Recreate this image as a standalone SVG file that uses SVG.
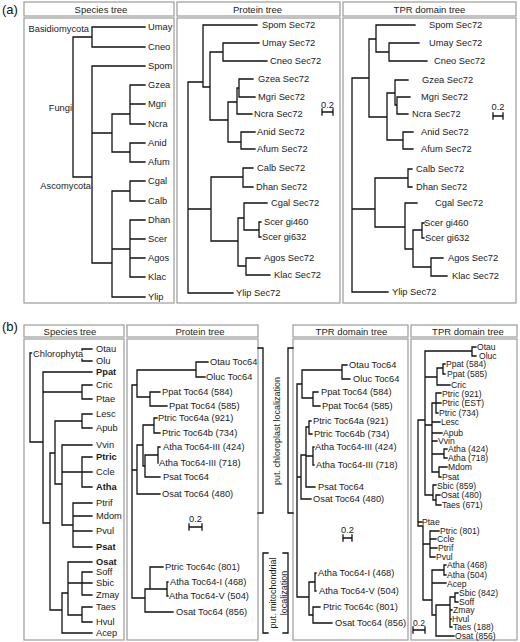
<svg xmlns="http://www.w3.org/2000/svg" width="520" height="642" viewBox="0 0 520 642">
<style>
.t{font-family:"Liberation Sans",Arial,sans-serif;font-size:9.3px;fill:#1a1a1a}
.s{font-size:8.6px}
.b{font-weight:bold}
.h{font-family:"Liberation Sans",Arial,sans-serif;font-size:9.5px;fill:#222;text-anchor:middle}
.pl{font-family:"Liberation Sans",Arial,sans-serif;font-size:13px;fill:#111}
.box{fill:#fff;stroke:#a3a3a3;stroke-width:1.3}
.e{fill:none;stroke:#111;stroke-width:1.3;stroke-linecap:square}
.halo{stroke:#fff;stroke-width:3;paint-order:stroke}
.vt{font-family:"Liberation Sans",Arial,sans-serif;font-size:9px;fill:#1a1a1a;text-anchor:middle}
</style>
<rect width="520" height="642" fill="#fff"/>
<g id="panels">
<text class="pl" x="2" y="14">(a)</text>
<rect class="box" x="24" y="2" width="150" height="14"/><text class="h" x="101" y="12.5">Species tree</text>
<rect class="box" x="177" y="2" width="163" height="14"/><text class="h" x="257.5" y="12.5">Protein tree</text>
<rect class="box" x="343" y="2" width="173" height="14"/><text class="h" x="429.5" y="12.5">TPR domain tree</text>
<rect class="box" x="24" y="18" width="150" height="285"/>
<rect class="box" x="177" y="18" width="163" height="285"/>
<rect class="box" x="343" y="18" width="173" height="285"/>
<text class="pl" x="2" y="331">(b)</text>
<rect class="box" x="24" y="325" width="100" height="12"/><text class="h" x="70" y="334.5">Species tree</text>
<rect class="box" x="127" y="325" width="131" height="12"/><text class="h" x="200" y="334.5">Protein tree</text>
<rect class="box" x="293" y="325" width="115" height="12"/><text class="h" x="351.5" y="334.5">TPR domain tree</text>
<rect class="box" x="411" y="325" width="106" height="12"/><text class="h" x="468" y="334.5">TPR domain tree</text>
<rect class="box" x="24" y="339" width="100" height="301"/>
<rect class="box" x="127" y="339" width="131" height="301"/>
<rect class="box" x="293" y="339" width="115" height="301"/>
<rect class="box" x="411" y="339" width="106" height="301"/>
</g>
<g id="connectors" class="e">
<path d="M73,37V177M73,37H92M92,27V47M92,27H145M92,47H145M73,177H92M92,66V263M92,66H145M92,133H112M112,114V152M112,114H130M130,85V124M130,85H145M130,104H145M130,124H145M112,152H130M130,143V162M130,143H145M130,162H145M92,263H112M112,191V297M112,191H130M130,181V201M130,181H145M130,201H145M112,249H130M130,220V277M130,220H145M130,239H145M130,258H145M130,277H145M112,297H145"/>
<path d="M188,82V293M188,82H203M203,25V87M203,25H257M203,87H210M210,52V120M210,52H223M223,43V61M223,43H259M223,61H267M210,120H228M228,102V142M228,102H237M237,88V114M237,88H239M239,79V97M239,79H253M239,97H255M237,114H252M228,142H241M241,132V149M241,132H255M241,149H255M188,209H211M211,177V241M211,177H243M243,168V187M243,168H253M243,187H253M211,241H238M238,218V266M238,218H244M244,203V230M244,203H267M244,230H259M259,222V237M259,222H261M259,237H261M238,266H246M246,258V275M246,258H260M246,275H270M188,293H233"/>
<path d="M322,112H333M322,109V115M333,109V115"/>
<path d="M352,78V292M352,78H369M369,39V117M369,39H376M376,25V52M376,25H415M376,52H389M389,43V61M389,43H419M389,61H427M369,117H387M387,93V140M387,93H395M395,80V105M395,80H408M395,105H397M397,97V114M397,97H410M397,114H408M387,140H403M403,132V149M403,132H413M403,149H413M352,209H375M375,178V227M375,178H408M408,169V187M408,169H412M408,187H412M375,227H405M405,203V249M405,203H417M405,249H413M413,230V267M413,230H422M422,223V238M422,223H424M422,238H424M413,267H431M431,258V276M431,258H443M431,276H447M352,292H388"/>
<path d="M493,116H503M493,113V119M503,113V119"/>
<path d="M30,353V442M30,353H82M82,349V361M82,349H92M82,361H92M30,442H43M43,372V523M43,372H92M43,392H82M82,385V399M82,385H92M82,399H92M43,523H50M50,453V610M50,453H55M55,421V484M55,421H82M82,414V428M82,414H92M82,428H92M55,484H62M62,445V525M62,445H92M62,472H82M82,457V487M82,457H92M82,472H92M82,487H92M62,525H73M73,503V547M73,503H92M73,516H92M73,531H92M73,547H92M50,610H62M62,593V633M62,593H68M68,562V615M68,562H92M68,583H82M82,572V595M82,572H92M82,583H92M82,595H92M68,615H82M82,607V622M82,607H92M82,622H92M62,633H92"/>
<path d="M132,385V598M132,385H137M137,370V397M137,370H196M196,362V377M196,362H208M196,377H205M137,397H150M150,392V406M150,392H160M150,406H167M132,470H137M137,445V494M137,445H143M143,425V466M143,425H154M154,418V433M154,418H157M154,433H160M143,466H145M145,455V477M145,455H158M158,447V463M158,447H160M145,477H160M137,494H160M132,598H145M145,589V612M145,589H150M150,567V589M150,567H163M150,589H167M167,582V596M167,582H168M167,596H168M145,612H173"/>
<path d="M189,527H202M189,524V530M202,524V530"/>
<path d="M258,348H263V513H258M293,348H288V513H293M268,553H263V633H268M283,553H288V633H283"/>
<path d="M297,384V597M297,384H302M302,370V398M302,370H342M342,365V379M342,365H347M342,379H350M302,398H313M313,392V406M313,392H318M313,406H320M297,477H301M301,455V499M301,455H306M306,427V487M306,427H309M309,421V434M309,421H311M309,434H312M306,456H313M313,447V465M313,447H314M313,465H314M306,487H315M301,499H311M297,597H309M309,582V615M309,582H315M315,573V591M315,573H316M315,591H316M309,615H313M313,607V623M313,607H320M313,623H332"/>
<path d="M343,538H352M343,535V541M352,535V541"/>
<path d="M418,420V526M418,420H425M425,351V495M425,351H472M472,347V356M472,347H476M472,356H476M425,377H437M437,368V385M437,368H443M443,364V374M443,364H445M443,374H445M437,385H450M425,425H432M432,403V472M432,403H436M436,393V413M436,393H441M436,403H441M436,413H438M432,422H440M432,433H442M432,441H437M432,454H444M444,449V458M444,449H447M444,458H447M432,472H439M439,467V477M439,467H447M439,477H441M425,495H433M433,485V500M433,485H436M433,500H436M436,495V505M436,495H440M436,505H441M418,522H422M418,526H423M423,526V600M423,544H430M430,531V557M430,531H439M430,539H436M430,548H437M430,557H435M423,600H432M432,570V615M432,570H444M444,565V575M444,565H446M444,575H446M432,583H446M432,615H436M436,605V636M436,605H450M450,597V627M450,597H455M455,593V602M455,593H458M455,602H458M450,610H452M450,619H451M450,627H452M436,636H454"/>
<path d="M413,630H425M413,627V633M425,627V633"/>
</g>
<g id="species-a" class="t">
<text x="89" y="32" text-anchor="end">Basidiomycota</text>
<text x="72" y="110.5" text-anchor="end">Fungi</text>
<text x="91" y="188.5" text-anchor="end">Ascomycota</text>
<g id="sa-umay"><text x="148" y="30.3">Umay</text></g>
<g id="sa-cneo"><text x="148" y="50.3">Cneo</text></g>
<g id="sa-spom"><text x="148" y="69.3">Spom</text></g>
<g id="sa-gzea"><text x="148" y="88.3">Gzea</text></g>
<g id="sa-mgri"><text x="148" y="107.3">Mgri</text></g>
<g id="sa-ncra"><text x="148" y="127.3">Ncra</text></g>
<g id="sa-anid"><text x="148" y="146.3">Anid</text></g>
<g id="sa-afum"><text x="148" y="165.3">Afum</text></g>
<g id="sa-cgal"><text x="148" y="184.3">Cgal</text></g>
<g id="sa-calb"><text x="148" y="204.3">Calb</text></g>
<g id="sa-dhan"><text x="148" y="223.3">Dhan</text></g>
<g id="sa-scer"><text x="148" y="242.3">Scer</text></g>
<g id="sa-agos"><text x="148" y="261.3">Agos</text></g>
<g id="sa-klac"><text x="148" y="280.3">Klac</text></g>
<g id="sa-ylip"><text x="148" y="300.3">Ylip</text></g>
</g>
<g id="protein-a" class="t">
<g id="pa-spom"><text x="262" y="28.3">Spom Sec72</text></g>
<g id="pa-umay"><text x="262" y="46.3">Umay Sec72</text></g>
<g id="pa-cneo"><text x="270" y="64.3">Cneo Sec72</text></g>
<g id="pa-gzea"><text x="258" y="82.3">Gzea Sec72</text></g>
<g id="pa-mgri"><text x="258" y="100.3">Mgri Sec72</text></g>
<g id="pa-ncra"><text x="254" y="117.3">Ncra Sec72</text></g>
<g id="pa-anid"><text x="257" y="135.3">Anid Sec72</text></g>
<g id="pa-afum"><text x="257" y="152.3">Afum Sec72</text></g>
<g id="pa-calb"><text x="257" y="171.3">Calb Sec72</text></g>
<g id="pa-dhan"><text x="256" y="190.3">Dhan Sec72</text></g>
<g id="pa-cgal"><text x="271" y="206.3">Cgal Sec72</text></g>
<g id="pa-scer460"><text x="264" y="225.3">Scer gi460</text></g>
<g id="pa-scer632"><text x="262" y="240.3">Scer gi632</text></g>
<g id="pa-agos"><text x="264" y="261.3">Agos Sec72</text></g>
<g id="pa-klac"><text x="274" y="278.3">Klac Sec72</text></g>
<g id="pa-ylip"><text x="236" y="296.3">Ylip Sec72</text></g>
<g id="pa-scale"><text x="327.5" y="108" text-anchor="middle">0.2</text></g>
</g>
<g id="tpr-a" class="t">
<g id="ta-spom"><text x="429" y="28.3">Spom Sec72</text></g>
<g id="ta-umay"><text x="429" y="46.3">Umay Sec72</text></g>
<g id="ta-cneo"><text x="434" y="64.3">Cneo Sec72</text></g>
<g id="ta-gzea"><text x="422" y="83.3">Gzea Sec72</text></g>
<g id="ta-mgri"><text x="421" y="100.3">Mgri Sec72</text></g>
<g id="ta-ncra"><text x="412" y="117.3">Ncra Sec72</text></g>
<g id="ta-anid"><text x="421" y="135.3">Anid Sec72</text></g>
<g id="ta-afum"><text x="421" y="152.3">Afum Sec72</text></g>
<g id="ta-calb"><text x="416" y="172.3">Calb Sec72</text></g>
<g id="ta-dhan"><text x="416" y="190.3">Dhan Sec72</text></g>
<g id="ta-cgal"><text x="435" y="206.3">Cgal Sec72</text></g>
<g id="ta-scer460"><text x="424" y="226.3">Scer gi460</text></g>
<g id="ta-scer632"><text x="425" y="241.3">Scer gi632</text></g>
<g id="ta-agos"><text x="448" y="261.3">Agos Sec72</text></g>
<g id="ta-klac"><text x="452" y="279.3">Klac Sec72</text></g>
<g id="ta-ylip"><text x="392" y="295.3">Ylip Sec72</text></g>
<g id="ta-scale"><text x="498" y="109.5" text-anchor="middle">0.2</text></g>
</g>
<g id="species-b" class="t">
<text class="halo" x="33" y="356.5">Chlorophyta</text>
<g id="sb-otau"><text x="96" y="352.3">Otau</text></g>
<g id="sb-olu"><text x="96" y="364.3">Olu</text></g>
<g id="sb-ppat"><text class="b" x="96" y="375.3">Ppat</text></g>
<g id="sb-cric"><text x="96" y="388.3">Cric</text></g>
<g id="sb-ptae"><text x="96" y="402.3">Ptae</text></g>
<g id="sb-lesc"><text x="96" y="417.3">Lesc</text></g>
<g id="sb-apub"><text x="96" y="431.3">Apub</text></g>
<g id="sb-vvin"><text x="96" y="448.3">Vvin</text></g>
<g id="sb-ptric"><text class="b" x="96" y="460.3">Ptric</text></g>
<g id="sb-ccle"><text x="96" y="475.3">Ccle</text></g>
<g id="sb-atha"><text class="b" x="96" y="490.3">Atha</text></g>
<g id="sb-ptrif"><text x="96" y="506.3">Ptrif</text></g>
<g id="sb-mdom"><text x="96" y="519.3">Mdom</text></g>
<g id="sb-pvul"><text x="96" y="534.3">Pvul</text></g>
<g id="sb-psat"><text class="b" x="96" y="550.3">Psat</text></g>
<g id="sb-osat"><text class="b" x="96" y="565.3">Osat</text></g>
<g id="sb-soff"><text x="96" y="575.3">Soff</text></g>
<g id="sb-sbic"><text x="96" y="586.3">Sbic</text></g>
<g id="sb-zmay"><text x="96" y="598.3">Zmay</text></g>
<g id="sb-taes"><text x="96" y="610.3">Taes</text></g>
<g id="sb-hvul"><text x="96" y="625.3">Hvul</text></g>
<g id="sb-acep"><text x="96" y="636.3">Acep</text></g>
</g>
<g id="protein-b" class="t">
<g id="pb-otau"><text x="210" y="365.3">Otau Toc64</text></g>
<g id="pb-oluc"><text x="206" y="380.3">Oluc Toc64</text></g>
<g id="pb-ppat584"><text x="162" y="395.3">Ppat Toc64 (584)</text></g>
<g id="pb-ppat585"><text x="169" y="409.3">Ppat Toc64 (585)</text></g>
<g id="pb-ptric921"><text x="158" y="421.3">Ptric Toc64a (921)</text></g>
<g id="pb-ptric734"><text x="162" y="436.3">Ptric Toc64b (734)</text></g>
<g id="pb-atha424"><text x="163" y="450.3">Atha Toc64-III (424)</text></g>
<g id="pb-atha718"><text x="159" y="466.3">Atha Toc64-III (718)</text></g>
<g id="pb-psat"><text x="163" y="480.3">Psat Toc64</text></g>
<g id="pb-osat480"><text x="162" y="497.3">Osat Toc64 (480)</text></g>
<g id="pb-ptric801"><text x="165" y="570.3">Ptric Toc64c (801)</text></g>
<g id="pb-atha468"><text x="170" y="585.3">Atha Toc64-I (468)</text></g>
<g id="pb-atha504"><text x="169" y="599.3">Atha Toc64-V (504)</text></g>
<g id="pb-osat856"><text x="176" y="615.3">Osat Toc64 (856)</text></g>
<g id="pb-scale"><text x="195.5" y="522" text-anchor="middle">0.2</text></g>
</g>
<g id="brackets">
<text class="vt" transform="translate(280,431) rotate(-90)">put. chloroplast localization</text>
<text class="vt" transform="translate(276,593) rotate(-90)">put. mitochondrial</text>
<text class="vt" transform="translate(287,593) rotate(-90)">localization</text>
</g>
<g id="tpr-b1" class="t">
<g id="tb1-otau"><text x="349" y="368.3">Otau Toc64</text></g>
<g id="tb1-oluc"><text x="353" y="382.3">Oluc Toc64</text></g>
<g id="tb1-ppat584"><text x="321" y="395.3">Ppat Toc64 (584)</text></g>
<g id="tb1-ppat585"><text x="322" y="409.3">Ppat Toc64 (585)</text></g>
<g id="tb1-ptric921"><text x="313" y="424.3">Ptric Toc64a (921)</text></g>
<g id="tb1-ptric734"><text x="314" y="437.3">Ptric Toc64b (734)</text></g>
<g id="tb1-atha424"><text x="315" y="450.3">Atha Toc64-III (424)</text></g>
<g id="tb1-atha718"><text x="316" y="468.3">Atha Toc64-III (718)</text></g>
<g id="tb1-psat"><text x="318" y="490.3">Psat Toc64</text></g>
<g id="tb1-osat480"><text x="313" y="502.3">Osat Toc64 (480)</text></g>
<g id="tb1-atha468"><text x="318" y="576.3">Atha Toc64-I (468)</text></g>
<g id="tb1-atha504"><text x="319" y="594.3">Atha Toc64-V (504)</text></g>
<g id="tb1-ptric801"><text x="323" y="610.3">Ptric Toc64c (801)</text></g>
<g id="tb1-osat856"><text x="335" y="626.3">Osat Toc64 (856)</text></g>
<g id="tb1-scale"><text x="347.5" y="533" text-anchor="middle">0.2</text></g>
</g>
<g id="tpr-b2" class="t s">
<g id="tb2-otau"><text x="477" y="350">Otau</text></g>
<g id="tb2-oluc"><text x="479" y="359">Oluc</text></g>
<g id="tb2-ppat584"><text x="446" y="367">Ppat (584)</text></g>
<g id="tb2-ppat585"><text x="447" y="377">Ppat (585)</text></g>
<g id="tb2-cric"><text x="451" y="387.5">Cric</text></g>
<g id="tb2-ptric921"><text x="442" y="396.5">Ptric (921)</text></g>
<g id="tb2-ptricest"><text x="442" y="406">Ptric (EST)</text></g>
<g id="tb2-ptric734"><text x="439" y="416">Ptric (734)</text></g>
<g id="tb2-lesc"><text x="441" y="425">Lesc</text></g>
<g id="tb2-apub"><text x="443" y="436">Apub</text></g>
<g id="tb2-vvin"><text x="438" y="444">Vvin</text></g>
<g id="tb2-atha424"><text x="448" y="452">Atha (424)</text></g>
<g id="tb2-atha718"><text x="448" y="461">Atha (718)</text></g>
<g id="tb2-mdom"><text x="448" y="470">Mdom</text></g>
<g id="tb2-psat"><text x="442" y="479.5">Psat</text></g>
<g id="tb2-sbic859"><text x="437" y="488.5">Sbic (859)</text></g>
<g id="tb2-osat480"><text x="441" y="498">Osat (480)</text></g>
<g id="tb2-taes671"><text x="442" y="508">Taes (671)</text></g>
<g id="tb2-ptae"><text x="422" y="525">Ptae</text></g>
<g id="tb2-ptric801"><text x="440" y="534">Ptric (801)</text></g>
<g id="tb2-ccle"><text x="437" y="542">Ccle</text></g>
<g id="tb2-ptrif"><text x="438" y="551">Ptrif</text></g>
<g id="tb2-pvul"><text x="436" y="560">Pvul</text></g>
<g id="tb2-atha468"><text x="447" y="568">Atha (468)</text></g>
<g id="tb2-atha504"><text x="447" y="577.5">Atha (504)</text></g>
<g id="tb2-acep"><text x="447" y="586.5">Acep</text></g>
<g id="tb2-sbic842"><text x="459" y="596">Sbic (842)</text></g>
<g id="tb2-soff"><text x="459" y="605">Soff</text></g>
<g id="tb2-zmay"><text x="453" y="613">Zmay</text></g>
<g id="tb2-hvul"><text x="452" y="622">Hvul</text></g>
<g id="tb2-taes188"><text x="453" y="630">Taes (188)</text></g>
<g id="tb2-osat856"><text x="455" y="639">Osat (856)</text></g>
<g id="tb2-scale"><text x="419" y="626" text-anchor="middle">0.2</text></g>
</g>
</svg>
